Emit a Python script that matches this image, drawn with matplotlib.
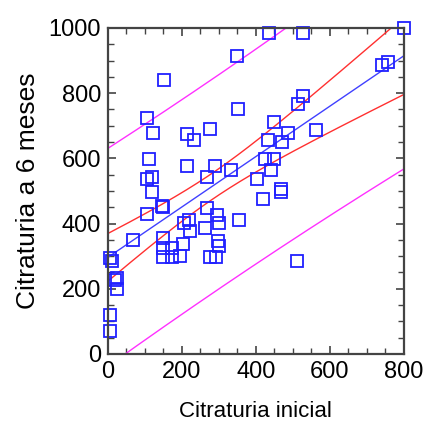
import numpy as np
import matplotlib
matplotlib.use('Agg')
import matplotlib.pyplot as plt
from matplotlib.ticker import MultipleLocator

plt.rcParams['font.family'] = ['Liberation Sans', 'DejaVu Sans']

# Citraturia inicial (x) y a 6 meses (y)
citr_inicial = [5, 12, 5, 5, 18, 25, 25, 67, 105, 111, 107, 118, 118, 121, 107,
                145, 148, 151, 148, 150, 150, 172, 172, 195, 204, 205, 220, 222,
                214, 232, 215, 262, 268, 267, 276, 276, 291, 289, 294, 301, 298,
                300, 334, 348, 352, 355, 402, 418, 424, 433, 435, 440, 449, 449,
                468, 468, 470, 487, 510, 514, 526, 528, 561, 740, 758, 800]
citr_6meses = [295, 285, 120, 70, 228, 232, 200, 348, 725, 598, 536, 542, 498, 678, 430,
               455, 450, 840, 355, 324, 298, 324, 298, 300, 337, 401, 411, 378,
               675, 655, 577, 385, 447, 544, 689, 298, 298, 577, 426, 401, 345,
               332, 564, 913, 751, 411, 536, 475, 598, 656, 983, 564, 598, 710,
               498, 505, 651, 679, 285, 768, 791, 983, 688, 886, 894, 1000]

x = np.array(citr_inicial, dtype=float)
y = np.array(citr_6meses, dtype=float)

# regresión lineal con bandas de confianza y predicción al 95%
n = len(x)
slope, intercept = np.polyfit(x, y, 1)
resid = y - (intercept + slope * x)
s = np.sqrt(np.sum(resid ** 2) / (n - 2))
xm = x.mean()
sxx = np.sum((x - xm) ** 2)
t = 1.998

xs = np.linspace(0, 800, 300)
fit = intercept + slope * xs
hw_conf = t * s * np.sqrt(1 / n + (xs - xm) ** 2 / sxx)
hw_pred = t * s * np.sqrt(1 + 1 / n + (xs - xm) ** 2 / sxx)

fig = plt.figure(figsize=(4.23, 4.30), dpi=100)
ax = fig.add_axes([0.255, 0.177, 0.700, 0.758])

ax.plot(xs, fit, color='#4040ff', lw=1)
ax.plot(xs, fit + hw_conf, color='#ff3030', lw=1)
ax.plot(xs, fit - hw_conf, color='#ff3030', lw=1)
ax.plot(xs, fit + hw_pred, color='#ff30ff', lw=1)
ax.plot(xs, fit - hw_pred, color='#ff30ff', lw=1)
ax.plot(x, y, 's', ms=8.5, mfc='none', mec='#2020ff', mew=1.3, clip_on=False)

ax.set_xlim(0, 800)
ax.set_ylim(0, 1000)
ax.xaxis.set_major_locator(MultipleLocator(200))
ax.xaxis.set_minor_locator(MultipleLocator(50))
ax.yaxis.set_major_locator(MultipleLocator(200))
ax.yaxis.set_minor_locator(MultipleLocator(50))
ax.tick_params(which='both', direction='in', top=True, right=True, color='#444444')
ax.tick_params(which='major', length=6, width=1.2, labelsize=17, pad=5)
ax.tick_params(which='minor', length=4, width=1)
for sp in ax.spines.values():
    sp.set_color('#444444')
    sp.set_linewidth(1.6)

ax.set_xlabel('Citraturia inicial', fontsize=16, labelpad=13)
ax.set_ylabel('Citraturia a 6 meses', fontsize=19, labelpad=6)

fig.savefig('out.png', dpi=100)
